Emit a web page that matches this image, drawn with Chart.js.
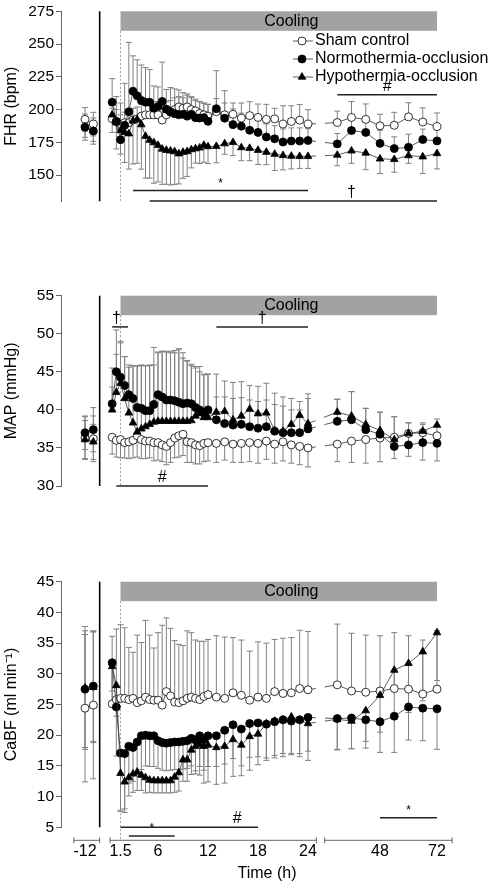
<!DOCTYPE html>
<html>
<head>
<meta charset="utf-8">
<script src="https://cdn.jsdelivr.net/npm/chart.js@4.4.0/dist/chart.umd.min.js"></script>
<style>
  html, body { margin: 0; padding: 0; background: #fff; }
  #wrap { position: relative; width: 495px; height: 883px; }
  canvas { position: absolute; left: 0; }
</style>
</head>
<body>
<div id="wrap">
  <canvas id="fhr" width="495" height="280" style="top:0"></canvas>
  <canvas id="map" width="495" height="280" style="top:280px"></canvas>
  <canvas id="cabf" width="495" height="323" style="top:560px"></canvas>
</div>
<script>
// sampling times (h): baseline, occlusion/cooling period, recovery
const HOURS_PRE = [-12, -11];
const HOURS_MAIN = [0.5, 1, 1.5, 2, 2.5, 3, 3.5, 4, 4.5, 5, 5.5, 6, 6.5, 7, 7.5, 8, 8.5, 9, 9.5, 10, 10.5, 11, 11.5, 12,
  13, 14, 15, 16, 17, 18, 19, 20, 21, 22, 23, 24];
const HOURS_POST = [30, 36, 42, 48, 54, 60, 66, 72];
const HOURS = [...HOURS_PRE, ...HOURS_MAIN, ...HOURS_POST];

const TICK_HOURS = [-12, 1.5, 6, 12, 18, 24, 48, 72];
const TICK_LABELS = ['-12', '1.5', '6', '12', '18', '24', '48', '72'];
const SERIES_NAMES = ['Sham control', 'Normothermia-occlusion', 'Hypothermia-occlusion'];

// FHR (bpm)
const FHR_TICKS = [150, 175, 200, 225, 250, 275];
const FHR_SHAM = [192.5, 188.9,
  193, 191, 187, 190, 190, 192, 193, 195, 196, 196, 196, 196, 192, 196, 198, 200, 202, 201, 202, 200, 199, 197, 196, 195,
  198.4, 196, 196.4, 193.5, 195.4, 194, 192.5, 192.9, 188.9, 190.9, 191.9, 188.9,
  190.1, 194, 192.5, 187.6, 188, 194.4, 190.5, 187];
const FHR_SHAM_SD = [9, 9,
  8, 9, 9, 8, 8, 9, 9, 9, 9, 10, 10, 10, 12, 10, 9, 9, 8, 8, 9, 9, 9, 9, 9, 9,
  10, 9, 8.6, 11.5, 10.6, 10.2, 11.5, 8.1, 14, 12, 12, 11,
  8.7, 12.2, 11.8, 8.8, 9.9, 10.8, 10.8, 10.4];
const FHR_NORMO = [186.6, 183.6,
  205.6, 190.9, 177, 188, 198.3, 214, 210.5, 207, 205.6, 205.6, 201, 202.3, 206.2, 200.3, 198.3, 196.8, 196, 196.4, 195, 196.4, 193.8, 193.5, 193.8, 191,
  200.7, 193.4, 188.5, 187.3, 184.2, 182.6, 179.1, 177.7, 175.2, 176, 176, 176.4,
  173.8, 184, 182.6, 174.2, 170.2, 171.2, 177.1, 176.1];
const FHR_NORMO_SD = [10, 10,
  18, 19, 28, 32, 53, 27, 27.5, 27, 26.5, 25, 17, 15, 30, 15, 18.5, 19, 19, 16.5, 17, 13.5, 13, 12.5, 11, 13,
  29, 21, 12, 10, 10, 10, 10, 10, 10, 10, 10, 9,
  8, 10, 9, 10, 9, 10, 8, 9];
const FHR_HYPO = [186.8, 183.8,
  196, 190, 184, 182.6, 181.6, 191.5, 192.5, 188.5, 179.7, 176.7, 174.8, 172.8, 169.9, 169, 168.5, 167.9, 166.3, 167.5, 168, 169.5, 170.2, 170.8, 172.8, 171.8,
  172, 174, 175, 171, 170.5, 169, 167.5, 166, 165, 164.5, 164.3, 164.3,
  165.3, 168.5, 166.9, 162.4, 162, 164.9, 164, 166.5];
const FHR_HYPO_SD = [8, 8,
  13.5, 20, 18, 23, 27, 33, 33.5, 34, 32, 29, 31, 28, 27, 26, 26, 25, 23, 20, 19, 14, 11, 12, 13, 13,
  12.6, 8.1, 10.1, 10, 9.5, 10.9, 9.5, 12.5, 11, 9.8, 9.2, 9.2,
  8.2, 9.5, 12.8, 11.2, 9.8, 5.9, 12.8, 11.8];

// MAP (mmHg)
const MAP_TICKS = [30, 35, 40, 45, 50, 55];
const MAP_SHAM = [36.3, 36.2,
  36.4, 36.0, 36.1, 35.7, 35.8, 36.0, 36.6, 36.1, 35.9, 35.9, 35.7, 35.7, 35.4, 35.2, 35.7, 36.3, 36.6, 36.8, 35.8, 35.7, 35.4, 35.3, 35.6, 35.7,
  35.6, 35.8, 35.5, 35.6, 35.7, 35.6, 35.9, 35.5, 35.8, 35.4, 35.2, 35.0,
  35.5, 35.9, 36.1, 36.3, 36.4, 36.9, 37.0, 36.6];
const MAP_SHAM_SD = [2.8, 3.0,
  2.2, 2.2, 2.4, 2.0, 2.2, 2.3, 2.8, 2.5, 2.3, 2.2, 2.4, 2.3, 2.2, 2.4, 2.6, 2.6, 2.8, 2.8, 2.7, 2.6, 2.5, 2.4, 2.4, 2.4,
  2.5, 2.4, 2.4, 2.5, 2.5, 2.6, 2.4, 2.5, 2.5, 2.4, 2.4, 2.5,
  2.3, 2.8, 3.1, 3.1, 2.8, 3.0, 3.6, 3.3];
const MAP_NORMO = [37.0, 37.4,
  40.8, 45.0, 44.3, 43.2, 42.0, 41.5, 40.3, 40.2, 39.9, 39.9, 40.7, 42.0, 41.7, 41.3, 41.3, 41.2, 41.0, 40.8, 40.9, 40.8, 40.3, 40.0, 39.6, 40.0,
  38.7, 38.2, 38.0, 38.1, 37.8, 37.6, 37.8, 37.2, 37.0, 37.0, 37.0, 37.5,
  38.5, 38.7, 37.4, 36.8, 35.2, 35.4, 35.7, 35.6];
const MAP_NORMO_SD = [2.2, 2.9,
  4.7, 5.5, 4.5, 3.8, 3.9, 4.3, 5.5, 5.6, 5.9, 6.0, 7.5, 5.6, 6.0, 6.3, 6.4, 6.3, 7.0, 6.0, 5.5, 5.0, 5.2, 5.0, 5.0, 4.7,
  3, 3.5, 3.5, 3.5, 3.5, 3.5, 3.5, 3.5, 3.5, 3, 3, 4,
  2.9, 3.7, 2.8, 2.9, 3.9, 2.9, 2.4, 2.4];
const MAP_HYPO = [36.1, 35.8,
  40.0, 42.3, 43.5, 41.5, 39.6, 38.3, 37.1, 37.5, 37.8, 38.1, 38.4, 38.5, 38.5, 38.5, 38.5, 38.5, 38.5, 38.5, 38.5, 38.6, 39.2, 39.5, 39.0, 39.0,
  39.7, 39.8, 38.7, 39.2, 40.1, 39.5, 39.6, 37.3, 37.2, 38.1, 39.3, 38.2,
  39.7, 39.2, 38.1, 37.3, 36.1, 36.9, 37.2, 38.0];
const MAP_HYPO_SD = [2.5, 2.3,
  3, 5, 5.5, 5.5, 6, 7.5, 8.7, 8.4, 8.0, 7.7, 7.5, 9.0, 9.2, 9.2, 9.0, 9.3, 9.5, 9.0, 8.0, 7.4, 6.5, 6.2, 5.7, 5.7,
  5.0, 4.0, 4.9, 4.5, 3.1, 3.6, 3.9, 4.9, 4.5, 3.4, 1.8, 3.9,
  1.7, 3.2, 2.1, 2.4, 3.0, 1.4, 1.1, 0.8];

// CaBF (ml/min)
const CABF_TICKS = [5, 10, 15, 20, 25, 30, 35, 40, 45];
const CABF_SHAM = [24.4, 24.9,
  25.1, 25.8, 26.0, 26.0, 25.8, 26.0, 25.3, 25.6, 26.2, 25.8, 25.7, 25.7, 24.9, 27.1, 26.4, 25.4, 25.3, 25.6, 26.0, 26.2, 26.0, 25.8, 26.3, 26.6,
  26.2, 26.0, 26.9, 26.5, 25.7, 26.2, 26.0, 27.1, 26.8, 26.9, 27.6, 27.4,
  28.2, 27.2, 27.0, 27.2, 27.6, 27.5, 26.7, 27.5];
const CABF_SHAM_SD = [12, 12,
  11, 11.5, 12, 11.5, 8.5, 7.5, 11, 9.5, 12.5, 10.5, 8.5, 11, 13, 12, 11, 10, 9.5, 9, 11, 10.5, 9.5, 9.5, 9, 9,
  10, 10, 9, 9, 8, 9, 9, 8.5, 9, 9, 9.5, 9.5,
  9.9, 9.4, 9.3, 9, 9.1, 8.7, 8.8, 9.5];
const CABF_NORMO = [27.5, 28.0,
  31.8, 24.6, 17.1, 17.0, 18.2, 18.0, 18.9, 19.9, 20.0, 19.9, 19.9, 19.1, 18.8, 18.7, 18.8, 18.9, 18.9, 19.0, 19.1, 19.5, 19.2, 19.9, 19.3, 19.9,
  19.9, 20.8, 21.7, 21.0, 21.9, 22.0, 21.8, 22.2, 22.5, 22.3, 22.5, 22.9,
  22.7, 22.8, 22.5, 22.2, 23.1, 24.6, 24.4, 24.3];
const CABF_NORMO_SD = [9.5, 9,
  7, 8, 9.5, 9, 6, 5.5, 5, 5.5, 5, 5, 5, 4.5, 4.5, 4.5, 4.5, 4.5, 4.5, 4.5, 4.5, 4.5, 5, 5, 5, 5,
  5, 5.5, 5.5, 6, 5.5, 5.5, 5.5, 5.5, 5.5, 5.5, 5.5, 5.5,
  5, 5, 4.6, 5, 5.9, 5.4, 5.3, 6.6];
const CABF_HYPO = [27.7, 27.8,
  31.2, 28.1, 13.8, 12.4, 13.1, 13.7, 14.0, 13.5, 13.1, 12.7, 12.6, 12.6, 12.6, 12.6, 12.6, 13.2, 13.9, 16.0, 16.0, 17.6, 18.2, 18.5, 18.2, 18.4,
  18.0, 18.2, 19.3, 18.4, 19.8, 20.2, 21.9, 22.3, 22.5, 23.0, 22.5, 21.9,
  22.6, 22.3, 24.0, 26.5, 30.6, 31.7, 33.6, 36.7];
const CABF_HYPO_SD = [10, 9,
  4, 5, 6, 5, 3, 3, 3, 2.5, 2.5, 2, 2, 2, 2, 2, 2, 2.5, 3, 3.5, 3.5, 4, 4.5, 5, 6, 6,
  6, 6, 6, 5, 5.5, 5, 6, 6, 6, 6, 6, 6,
  5, 4.5, 5, 6, 8, 8, 8, 7.8];

// significance bars: hours start/end, level in axis units, label hour (default: middle)
const FHR_MARKS = [
  { start: 3, end: 24, level: 138.2, text: '*' },
  { start: 5, end: 72, level: 130.2, text: '†', labelAt: 36 },
  { start: 30, end: 72, level: 211.3, text: '#' }
];
const MAP_MARKS = [
  { start: 0.5, end: 2.4, level: 50.9, text: '†', labelAt: 1 },
  { start: 13, end: 24, level: 50.9, text: '†' },
  { start: 1, end: 12, level: 30, text: '#' }
];
const CABF_MARKS = [
  { start: 2.5, end: 8, level: 3.6, text: '*' },
  { start: 1.5, end: 18, level: 5, text: '#', labelAt: 15.5 },
  { start: 48, end: 72, level: 6.55, text: '*' }
];

const COOLING = [1.5, 72];
const FONT = '"Liberation Sans", Arial, Helvetica, sans-serif';

// broken time axis: baseline block, 0-24 h linear, 30-72 h compressed
function axisPos(h) {
  if (h < 0) return h + 9.24;
  if (h <= 24) return h;
  return 32.64 + (h - 48) * 0.285;
}
const X_MIN = -5.64, X_MAX = 41.64;
const BREAK_AT = -1.0;
const AXIS_PIECES = [[-4.1, -1.0], [0.25, 25.0], [26.0, 41.3]];

function makeDecor(p) {
  return {
    id: 'decor',
    beforeDatasetsDraw(chart) {
      const { ctx, chartArea: a } = chart;
      const x = chart.scales.x, y = chart.scales.y;
      ctx.save();
      const c0 = x.getPixelForValue(axisPos(COOLING[0]));
      const c1 = x.getPixelForValue(axisPos(COOLING[1]));
      ctx.fillStyle = '#a2a2a2';
      ctx.fillRect(c0, a.top, c1 - c0, 19.5);
      ctx.fillStyle = '#000';
      ctx.font = '16px ' + FONT;
      ctx.textAlign = 'center';
      ctx.textBaseline = 'middle';
      ctx.fillText('Cooling', x.getPixelForValue(axisPos(22)), a.top + 10);

      // start of cooling
      ctx.strokeStyle = '#888';
      ctx.lineWidth = 0.8;
      ctx.setLineDash([2, 2]);
      ctx.beginPath();
      ctx.moveTo(c0, a.top + 19.5);
      ctx.lineTo(c0, a.bottom + (p.axis ? 13 : 0));
      ctx.stroke();
      ctx.setLineDash([]);

      // occlusion line
      const bx = x.getPixelForValue(BREAK_AT);
      ctx.strokeStyle = '#000';
      ctx.lineWidth = 1.6;
      ctx.beginPath();
      ctx.moveTo(bx, a.top);
      ctx.lineTo(bx, a.bottom);
      ctx.stroke();

      // error bars (both ways at baseline, one way afterwards)
      ctx.strokeStyle = '#808080';
      ctx.lineWidth = 1;
      p.series.forEach((vals, i) => {
        const meta = chart.getDatasetMeta(i);
        const sd = p.sd[i], dir = p.dirs[i];
        meta.data.forEach((pt, j) => {
          const v = vals[j], e = sd[j];
          if (v == null || !e) return;
          const ends = HOURS[j] < 0 ? [v + e, v - e] : [v + dir * e];
          ends.forEach(endVal => {
            const py = y.getPixelForValue(endVal);
            ctx.beginPath();
            ctx.moveTo(pt.x, pt.y);
            ctx.lineTo(pt.x, py);
            ctx.moveTo(pt.x - 3, py);
            ctx.lineTo(pt.x + 3, py);
            ctx.stroke();
          });
        });
      });
      ctx.restore();
    },
    afterDatasetsDraw(chart) {
      const { ctx, chartArea: a } = chart;
      const x = chart.scales.x, y = chart.scales.y;
      ctx.save();

      p.marks.forEach(m => {
        const x0 = x.getPixelForValue(axisPos(m.start));
        const x1 = x.getPixelForValue(axisPos(m.end));
        const py = y.getPixelForValue(m.level);
        ctx.strokeStyle = '#222';
        ctx.lineWidth = 1.5;
        ctx.beginPath();
        ctx.moveTo(x0, py);
        ctx.lineTo(x1, py);
        ctx.stroke();
        const tx = typeof m.labelAt === 'number' ? x.getPixelForValue(axisPos(m.labelAt)) : (x0 + x1) / 2;
        ctx.fillStyle = '#000';
        ctx.textAlign = 'center';
        ctx.textBaseline = 'alphabetic';
        ctx.font = (m.text === '*' ? '12px ' : '16px ') + FONT;
        ctx.fillText(m.text, tx, py - 4);
      });

      if (p.legend) {
        SERIES_NAMES.forEach((name, i) => {
          const st = STYLES[i];
          const ly = 41 + i * 18;
          ctx.strokeStyle = '#333';
          ctx.lineWidth = 0.8;
          ctx.beginPath();
          ctx.moveTo(293, ly);
          ctx.lineTo(313, ly);
          ctx.stroke();
          ctx.fillStyle = st.pointBackgroundColor;
          ctx.strokeStyle = '#000';
          ctx.lineWidth = 0.8;
          Chart.helpers.drawPoint(ctx, { pointStyle: st.pointStyle, radius: st.pointRadius, borderWidth: 0.8, rotation: 0 }, 302, ly);
          ctx.fillStyle = '#000';
          ctx.font = '16px ' + FONT;
          ctx.textAlign = 'left';
          ctx.textBaseline = 'middle';
          ctx.fillText(name, 315, ly);
        });
      }

      if (p.axis) {
        const ay = a.bottom + 13;
        ctx.strokeStyle = '#666';
        ctx.lineWidth = 1;
        AXIS_PIECES.forEach(([p0, p1]) => {
          const x0 = x.getPixelForValue(p0), x1 = x.getPixelForValue(p1);
          ctx.beginPath();
          ctx.moveTo(x0, ay);
          ctx.lineTo(x1, ay);
          ctx.moveTo(x0, ay - 3);
          ctx.lineTo(x0, ay + 3);
          ctx.moveTo(x1, ay - 3);
          ctx.lineTo(x1, ay + 3);
          ctx.stroke();
        });
        ctx.fillStyle = '#000';
        ctx.font = '16px ' + FONT;
        ctx.textAlign = 'center';
        ctx.textBaseline = 'middle';
        ctx.fillText('Time (h)', (a.left + a.right) / 2 + 9, a.bottom + 46);
      }
      ctx.restore();
    }
  };
}

const PANELS = [
  { id: 'fhr', title: 'FHR (bpm)', min: 130, max: 275, ticks: FHR_TICKS, top: 10, bottom: 23,
    series: [FHR_SHAM, FHR_NORMO, FHR_HYPO], sd: [FHR_SHAM_SD, FHR_NORMO_SD, FHR_HYPO_SD], dirs: [1, 1, -1],
    marks: FHR_MARKS, legend: true },
  { id: 'map', title: 'MAP (mmHg)', min: 30, max: 55, ticks: MAP_TICKS, top: 15.7, bottom: 18.3,
    series: [MAP_SHAM, MAP_NORMO, MAP_HYPO], sd: [MAP_SHAM_SD, MAP_NORMO_SD, MAP_HYPO_SD], dirs: [-1, 1, 1],
    marks: MAP_MARKS },
  { id: 'cabf', title: 'CaBF (ml min\u207B\u00B9)', min: 5, max: 45, ticks: CABF_TICKS, top: 21.7, bottom: 0,
    series: [CABF_SHAM, CABF_NORMO, CABF_HYPO], sd: [CABF_SHAM_SD, CABF_NORMO_SD, CABF_HYPO_SD], dirs: [1, -1, -1],
    marks: CABF_MARKS, axis: true }
];

const STYLES = [
  { pointStyle: 'circle', pointRadius: 4, pointBackgroundColor: '#fff', order: 3 },
  { pointStyle: 'circle', pointRadius: 4, pointBackgroundColor: '#000', order: 2 },
  { pointStyle: 'triangle', pointRadius: 4.4, pointBackgroundColor: '#000', order: 1 }
];

PANELS.forEach(p => {
  const datasets = p.series.map((vals, i) => ({
    label: SERIES_NAMES[i],
    data: HOURS.map((h, j) => ({ x: axisPos(h), y: vals[j] })),
    borderColor: '#333',
    borderWidth: 0.8,
    pointBorderColor: '#000',
    pointBorderWidth: 0.8,
    ...STYLES[i],
    segment: {
      borderColor: c => (HOURS[c.p0DataIndex] < 0 && HOURS[c.p1DataIndex] > 0) ? 'rgba(0,0,0,0)' : undefined,
      borderDash: c => HOURS[c.p0DataIndex] === 24 ? [8, 9, 60] : undefined
    }
  }));

  new Chart(document.getElementById(p.id), {
    type: 'line',
    data: { datasets },
    plugins: [makeDecor(p)],
    options: {
      responsive: false,
      animation: false,
      events: [],
      layout: { padding: { left: 0, right: 40, top: p.top, bottom: p.bottom } },
      plugins: {
        legend: { display: false },
        tooltip: { enabled: false }
      },
      scales: {
        x: {
          type: 'linear',
          display: !!p.axis,
          min: X_MIN,
          max: X_MAX,
          afterBuildTicks: s => { s.ticks = TICK_HOURS.map(h => ({ value: axisPos(h) })); },
          afterFit: s => { s.height = 55.7; },
          grid: { display: false, drawTicks: false },
          border: { display: false },
          ticks: {
            callback: (v, i) => TICK_LABELS[i],
            autoSkip: false,
            maxRotation: 0,
            padding: 15,
            color: '#000',
            font: { family: FONT, size: 16 }
          }
        },
        y: {
          min: p.min,
          max: p.max,
          afterBuildTicks: s => { s.ticks = p.ticks.map(v => ({ value: v })); },
          afterFit: s => { s.width = 61; },
          border: { color: '#666', width: 1 },
          grid: { drawOnChartArea: false, tickLength: 5, color: '#666' },
          ticks: { color: '#000', padding: 2, font: { family: FONT, size: 15.5 } },
          title: { display: true, text: p.title, color: '#000', padding: { top: 2, bottom: 0 }, font: { family: FONT, size: 16 } }
        }
      }
    }
  });
});
</script>
</body>
</html>
